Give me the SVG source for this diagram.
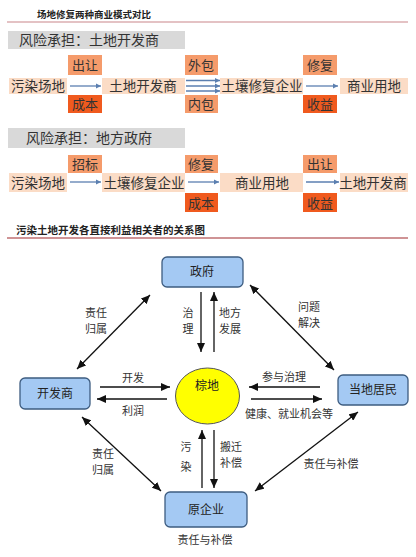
<svg xmlns="http://www.w3.org/2000/svg" width="416" height="557" viewBox="0 0 416 557">
<defs>
<style>
text{font-family:"Noto Sans CJK SC","Noto Sans",sans-serif;fill:#222}
.title{font-size:9.5px;font-weight:bold}
.title2{font-size:10.5px;font-weight:bold}
.hdr{font-size:14px;fill:#333}
.band{fill:#fbdcc6}
.lt{fill:#f59b6b}
.dk{fill:#f05a1e}
.rt{font-size:13.5px;text-anchor:middle;fill:#333}
.bt{font-size:13px;text-anchor:middle;fill:#333}
.rar{stroke:#5b7fb0;stroke-width:1.3;fill:none;marker-end:url(#ba)}
.node{fill:#a4c9f3;stroke:#3d5c80;stroke-width:1.3}
.nt{font-size:12px;text-anchor:middle;fill:#222}
.lb{font-size:11px;text-anchor:middle;fill:#333}
.ar{stroke:#111;stroke-width:1.3;fill:none;marker-end:url(#ka)}
.dar{stroke:#111;stroke-width:1.3;fill:none;marker-end:url(#ka);marker-start:url(#ka)}
</style>
<marker id="ba" markerUnits="userSpaceOnUse" markerWidth="6" markerHeight="6" refX="5" refY="3" orient="auto"><path d="M0,0.5 L5,3 L0,5.5 z" fill="#5b7fb0"/></marker>
<marker id="ka" markerUnits="userSpaceOnUse" markerWidth="10" markerHeight="8" refX="9" refY="4" orient="auto-start-reverse"><path d="M0,0 L9,4 L0,8 z" fill="#111"/></marker>
</defs>
<rect width="416" height="557" fill="#fff"/>

<text class="title" x="37" y="18">场地修复两种商业模式对比</text>
<line x1="7" y1="22" x2="408" y2="22" stroke="#c9868a" stroke-width="1.2"/>

<g id="mode1">
<rect x="8" y="31" width="177" height="18" fill="#d9d9d9"/>
<text class="hdr" x="19" y="45">风险承担：土地开发商</text>
<rect class="band" x="9" y="78" width="58" height="16"/>
<rect class="band" x="102" y="78" width="83" height="16"/>
<rect class="band" x="220" y="78" width="83" height="16"/>
<rect class="band" x="340" y="78" width="68" height="16"/>
<rect class="lt" x="68" y="55" width="34" height="20"/>
<rect class="dk" x="68" y="95" width="34" height="18"/>
<rect class="lt" x="185" y="55" width="33" height="20"/>
<rect class="lt" x="185" y="95" width="33" height="18"/>
<rect class="lt" x="303" y="55" width="34" height="20"/>
<rect class="dk" x="303" y="95" width="34" height="18"/>
<text class="rt" x="38" y="91">污染场地</text>
<text class="rt" x="143" y="91">土地开发商</text>
<text class="rt" x="262" y="91">土壤修复企业</text>
<text class="rt" x="374" y="91">商业用地</text>
<text class="bt" x="85" y="70">出让</text>
<text class="bt" x="85" y="109">成本</text>
<text class="bt" x="201" y="70">外包</text>
<text class="bt" x="201" y="109">内包</text>
<text class="bt" x="320" y="70">修复</text>
<text class="bt" x="320" y="109">收益</text>
<line class="rar" x1="70" y1="86" x2="101" y2="86"/>
<line class="rar" x1="186" y1="80.5" x2="220" y2="80.5"/>
<line class="rar" x1="186" y1="86" x2="220" y2="86"/>
<line class="rar" x1="186" y1="91" x2="220" y2="91"/>
<line class="rar" x1="306" y1="86" x2="338" y2="86"/>
</g>

<g id="mode2">
<rect x="8" y="128" width="177" height="20" fill="#d9d9d9"/>
<text class="hdr" x="26" y="143">风险承担：地方政府</text>
<rect class="band" x="9" y="173" width="58" height="19"/>
<rect class="band" x="102" y="173" width="83" height="19"/>
<rect class="band" x="220" y="173" width="83" height="19"/>
<rect class="band" x="340" y="173" width="68" height="19"/>
<rect class="lt" x="68" y="155" width="34" height="18"/>
<rect class="lt" x="185" y="155" width="33" height="18"/>
<rect class="dk" x="185" y="193" width="33" height="19"/>
<rect class="lt" x="303" y="155" width="34" height="18"/>
<rect class="dk" x="303" y="193" width="34" height="19"/>
<text class="rt" x="38" y="187.5">污染场地</text>
<text class="rt" x="144" y="187.5">土壤修复企业</text>
<text class="rt" x="262" y="187.5">商业用地</text>
<text class="rt" x="373" y="187.5">土地开发商</text>
<text class="bt" x="85" y="169">招标</text>
<text class="bt" x="201" y="169">修复</text>
<text class="bt" x="201" y="207.5">成本</text>
<text class="bt" x="320" y="169">出让</text>
<text class="bt" x="320" y="207.5">收益</text>
<line class="rar" x1="70" y1="182" x2="101" y2="182"/>
<line class="rar" x1="188" y1="182" x2="219" y2="182"/>
<line class="rar" x1="306" y1="182" x2="339" y2="182"/>
</g>

<text class="title2" x="16" y="234">污染土地开发各直接利益相关者的关系图</text>
<line x1="7" y1="238" x2="408" y2="238" stroke="#a0282d" stroke-width="1.2"/>

<g id="connectors">
<line class="ar" x1="201" y1="292" x2="201" y2="352"/>
<line class="ar" x1="214" y1="352" x2="214" y2="292"/>
<line class="dar" x1="77" y1="369" x2="150" y2="295"/>
<line class="dar" x1="250" y1="285" x2="334" y2="370"/>
<line class="ar" x1="100" y1="387" x2="170" y2="387"/>
<line class="ar" x1="167" y1="399" x2="97" y2="399"/>
<line class="ar" x1="320" y1="387" x2="249" y2="387"/>
<line class="ar" x1="251" y1="399" x2="322" y2="399"/>
<line class="ar" x1="202" y1="488" x2="202" y2="430"/>
<line class="ar" x1="214" y1="430" x2="214" y2="488"/>
<line class="dar" x1="82" y1="417" x2="161" y2="491"/>
<line class="dar" x1="358" y1="412" x2="255" y2="491"/>
<text class="lb"><tspan x="96" y="317">责任</tspan><tspan x="96" y="333">归属</tspan></text>
<text class="lb"><tspan x="188" y="317">治</tspan><tspan x="188" y="333">理</tspan></text>
<text class="lb"><tspan x="230" y="317">地方</tspan><tspan x="230" y="333">发展</tspan></text>
<text class="lb"><tspan x="309" y="311">问题</tspan><tspan x="309" y="327">解决</tspan></text>
<text class="lb" x="133" y="382">开发</text>
<text class="lb" x="133" y="415">利润</text>
<text class="lb" x="284" y="381">参与治理</text>
<text class="lb" x="289" y="418">健康、就业机会等</text>
<text class="lb"><tspan x="186" y="451">污</tspan><tspan x="186" y="471">染</tspan></text>
<text class="lb"><tspan x="231" y="451">搬迁</tspan><tspan x="231" y="467">补偿</tspan></text>
<text class="lb"><tspan x="103" y="458">责任</tspan><tspan x="103" y="474">归属</tspan></text>
<text class="lb" x="331" y="468">责任与补偿</text>
<text class="lb" x="205" y="544">责任与补偿</text>
</g>

<g id="n-gov"><rect class="node" x="162" y="257" width="81" height="30" rx="5"/><text class="nt" x="202" y="276">政府</text></g>
<g id="n-dev"><rect class="node" x="20" y="378" width="70" height="31" rx="5"/><text class="nt" x="55" y="398">开发商</text></g>
<g id="n-res"><rect class="node" x="338" y="375" width="70" height="30" rx="5"/><text class="nt" x="373" y="394">当地居民</text></g>
<g id="n-ent"><rect class="node" x="165" y="492" width="82" height="35" rx="5"/><text class="nt" x="206" y="514">原企业</text></g>
<g id="n-brown"><ellipse cx="207.5" cy="396" rx="32" ry="28" fill="#ffff00" stroke="#555" stroke-width="1"/><text class="nt" x="207" y="390">棕地</text></g>
</svg>
